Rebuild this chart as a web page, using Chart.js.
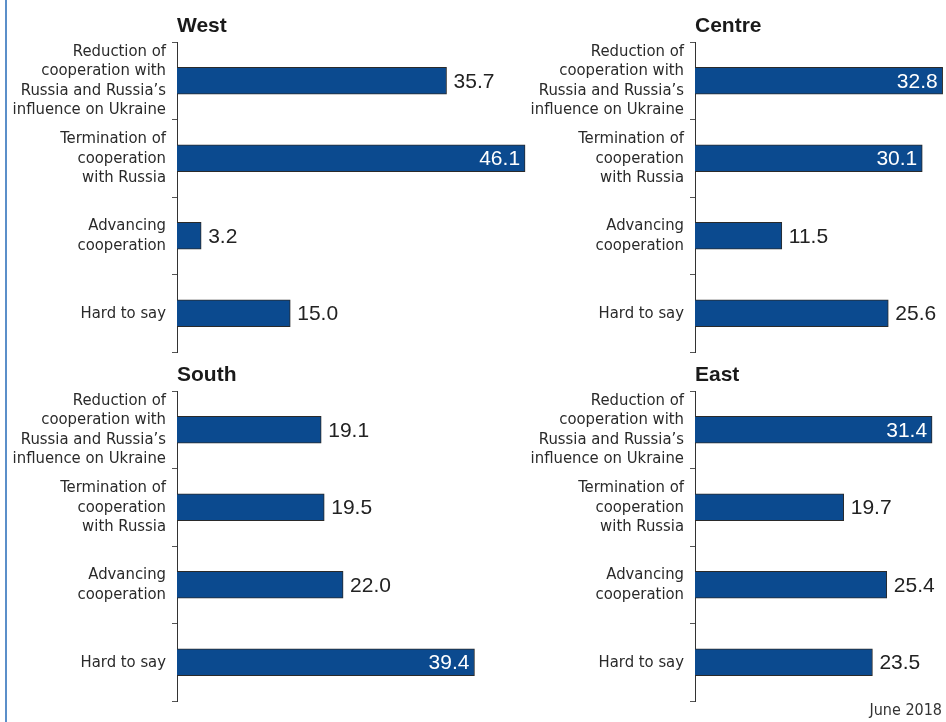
<!DOCTYPE html>
<html>
<head>
<meta charset="utf-8">
<script src="https://cdn.jsdelivr.net/npm/chart.js@4.4.1/dist/chart.umd.min.js"></script>
<style>
  html, body { margin: 0; padding: 0; background: #fff; }
  body { width: 946px; height: 722px; position: relative; overflow: hidden; }
  .frame { position: absolute; left: 5px; top: 0; width: 2px; height: 722px; background: #5b8fc9; }
  .panel { position: absolute; }
  .note {
    position: absolute; right: 4px; top: 700px;
    font: 16px "DejaVu Sans Condensed", sans-serif;
    color: #333;
  }
</style>
</head>
<body>
<div class="frame"></div>
<div class="panel" style="left:0;top:0"><canvas id="west" width="540" height="360"></canvas></div>
<div class="panel" style="left:520px;top:0"><canvas id="centre" width="426" height="360"></canvas></div>
<div class="panel" style="left:0;top:349px"><canvas id="south" width="540" height="360"></canvas></div>
<div class="panel" style="left:520px;top:349px"><canvas id="east" width="426" height="360"></canvas></div>
<div class="note">June 2018</div>
<script>
// answer options, shared by all regions
const categories = [
  ['Reduction of', 'cooperation with', 'Russia and Russia\u2019s', 'influence on Ukraine'],
  ['Termination of', 'cooperation', 'with Russia'],
  ['Advancing', 'cooperation'],
  ['Hard to say']
];

// shares of respondents, %
const west = [35.7, 46.1, 3.2, 15.0];
const centre = [32.8, 30.1, 11.5, 25.6];
const south = [19.1, 19.5, 22.0, 39.4];
const east = [31.4, 19.7, 25.4, 23.5];

const BAR_BLUE = '#0b4a8f';
const PX_PER_UNIT = 7.55; // same x scale in every panel

// region name above the axis
const panelTitle = {
  id: 'panelTitle',
  afterDraw(chart, args, opts) {
    const ctx = chart.ctx;
    ctx.save();
    ctx.font = 'bold 21px "Liberation Sans", Arial, sans-serif';
    ctx.fillStyle = '#1a1a1a';
    ctx.textBaseline = 'alphabetic';
    ctx.textAlign = 'left';
    ctx.fillText(opts.text, chart.chartArea.left, chart.chartArea.top - 10);
    ctx.restore();
  }
};

// value at the end of each bar; white inside for the largest bar or when it would run off
const barValues = {
  id: 'barValues',
  afterDatasetsDraw(chart) {
    const ctx = chart.ctx;
    const data = chart.data.datasets[0].data;
    const max = Math.max(...data);
    ctx.save();
    ctx.font = '21px "Liberation Sans", Arial, sans-serif';
    ctx.textBaseline = 'middle';
    chart.getDatasetMeta(0).data.forEach((bar, i) => {
      const txt = data[i].toFixed(1);
      const w = ctx.measureText(txt).width;
      const inside = data[i] === max || bar.x + 7 + w > chart.width - 2;
      if (inside) {
        ctx.fillStyle = '#fff';
        ctx.textAlign = 'right';
        ctx.fillText(txt, bar.x - 5, bar.y + 1);
      } else {
        ctx.fillStyle = '#222';
        ctx.textAlign = 'left';
        ctx.fillText(txt, bar.x + 7, bar.y + 1);
      }
    });
    ctx.restore();
  }
};

function makePanel(id, name, values, axisX) {
  const canvas = document.getElementById(id);
  const xMax = (canvas.width - axisX) / PX_PER_UNIT;
  return new Chart(canvas, {
    type: 'bar',
    data: {
      labels: categories,
      datasets: [{
        data: values,
        backgroundColor: BAR_BLUE,
        borderColor: '#2a2a2a',
        borderWidth: 1,
        barThickness: 27
      }]
    },
    options: {
      indexAxis: 'y',
      responsive: false,
      animation: false,
      layout: { padding: { top: 42, bottom: 8, left: 0, right: 0 } },
      scales: {
        x: { display: false, min: 0, max: xMax },
        y: {
          // fixed axis position; labels sit inside their bands so no extra padding
          afterFit(scale) {
            scale.width = axisX;
            scale.paddingTop = 0;
            scale.paddingBottom = 0;
          },
          grid: {
            offset: true,
            drawOnChartArea: false,
            drawTicks: true,
            tickLength: 5,
            color: '#555',
            lineWidth: 1
          },
          border: { display: true, color: '#333', width: 1 },
          ticks: {
            autoSkip: false,
            padding: 6,
            color: '#2a2a2a',
            font: {
              family: '"DejaVu Sans Condensed", sans-serif',
              size: 16.5,
              lineHeight: '19.5px'
            }
          }
        }
      },
      plugins: {
        legend: { display: false },
        tooltip: { enabled: false },
        panelTitle: { text: name }
      }
    },
    plugins: [panelTitle, barValues]
  });
}

makePanel('west', 'West', west, 177);
makePanel('centre', 'Centre', centre, 175);
makePanel('south', 'South', south, 177);
makePanel('east', 'East', east, 175);
</script>
</body>
</html>
